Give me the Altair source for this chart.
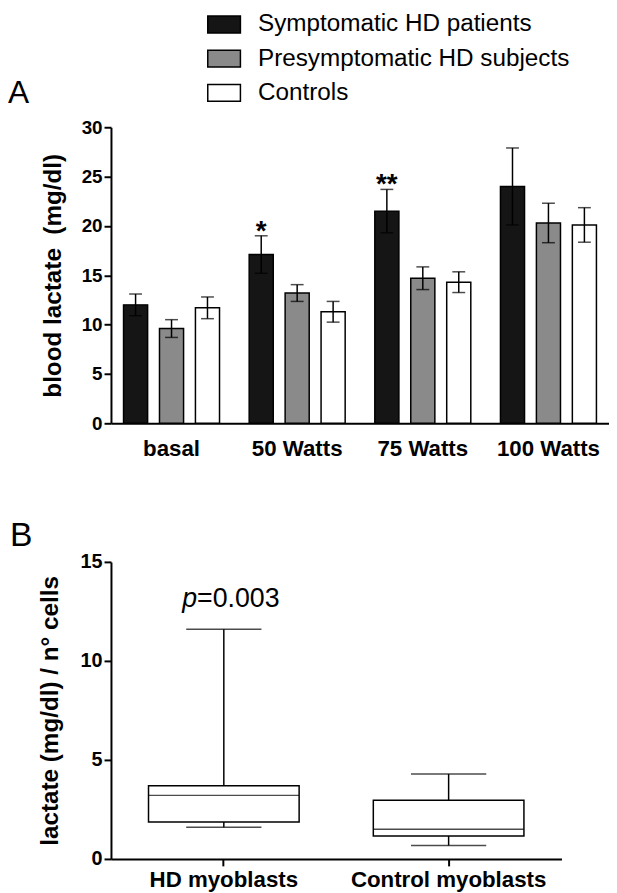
import altair as alt
import pandas as pd

FONT = "Liberation Sans"

# ---------------- Panel A data ----------------
GROUPS = ["basal", "50 Watts", "75 Watts", "100 Watts"]
SERIES = ["Symptomatic HD patients", "Presymptomatic HD subjects", "Controls"]
SYMPTOMATIC = [12.0, 17.1, 21.5, 24.0]
SYMPTOMATIC_ERR = [1.1, 1.9, 2.2, 3.9]
PRESYMPTOMATIC = [9.6, 13.2, 14.7, 20.3]
PRESYMPTOMATIC_ERR = [0.9, 0.85, 1.15, 2.0]
CONTROLS = [11.7, 11.3, 14.3, 20.1]
CONTROLS_ERR = [1.1, 1.05, 1.05, 1.75]
STARS = ["", "*", "**", ""]
COLORS = ["#151515", "#8a8a8a", "#ffffff"]
Y_TICKS_A = [0, 5, 10, 15, 20, 25, 30]

rows = []
for s, means, errs in zip(SERIES, [SYMPTOMATIC, PRESYMPTOMATIC, CONTROLS],
                          [SYMPTOMATIC_ERR, PRESYMPTOMATIC_ERR, CONTROLS_ERR]):
    for i, (g, m, e) in enumerate(zip(GROUPS, means, errs)):
        rows.append(dict(group=g, series=s, mean=m, lo=m - e, hi=m + e,
                         star=STARS[i] if s == SERIES[0] else ""))
dfa = pd.DataFrame(rows)

# ---------------- Panel B data ----------------
CATS = ["HD myoblasts", "Control myoblasts"]
MINS = [1.6, 0.68]
Q1 = [1.86, 1.16]
MEDIANS = [3.21, 1.5]
Q3 = [3.69, 2.96]
MAXS = [11.6, 4.29]
Y_TICKS_B = [0, 5, 10, 15]
dfb = pd.DataFrame(dict(cat=CATS, mn=MINS, q1=Q1, med=MEDIANS, q3=Q3, mx=MAXS))

# ---------------- Panel A ----------------
xa = alt.X("group:N", sort=GROUPS,
           scale=alt.Scale(paddingInner=0.236, paddingOuter=0.1),
           axis=alt.Axis(title=None, labelAngle=0, ticks=False, tickSize=0,
                         labelFontSize=22.5, labelFontWeight="bold", labelPadding=15,
                         domainWidth=2, labelFont=FONT, labelLimit=300))
xoa = alt.XOffset("series:N", sort=SERIES,
                  scale=alt.Scale(domain=SERIES, paddingInner=0.33, paddingOuter=0))
ya_scale = alt.Scale(domain=[0, 30], nice=False)
ya_axis = alt.Axis(values=Y_TICKS_A, title="blood lactate\u00a0 (mg/dl)",
                   titleFontSize=24.5, titleFontWeight="bold", titleFont=FONT,
                   titlePadding=16, labelFontSize=19, labelFontWeight="bold",
                   labelFont=FONT, labelPadding=2, tickSize=7, tickWidth=2,
                   domainWidth=2, grid=False)


def ya(field):
    return alt.Y(field, scale=ya_scale, axis=ya_axis)


bars = alt.Chart(dfa).mark_bar(stroke="black", strokeWidth=1.5).encode(
    x=xa, xOffset=xoa, y=ya("mean:Q"),
    fill=alt.Fill("series:N", sort=SERIES,
                  scale=alt.Scale(domain=SERIES, range=COLORS),
                  legend=alt.Legend(title=None, orient="none", legendX=102, legendY=-116,
                                    symbolType="M-1.94,-1H1.94V1H-1.94Z", symbolSize=289,
                                    symbolStrokeColor="black", symbolStrokeWidth=1.5,
                                    labelFontSize=24.5, labelFont=FONT, labelColor="black",
                                    labelOffset=22, rowPadding=9.5, padding=0,
                                    labelLimit=500)),
)
err = alt.Chart(dfa).mark_rule(color="black", strokeWidth=1.5).encode(
    x=xa, xOffset=xoa, y=ya("lo:Q"), y2="hi:Q")
cap_hi = alt.Chart(dfa).mark_tick(color="black", thickness=1.5, size=13).encode(
    x=xa, xOffset=xoa, y=ya("hi:Q"))
cap_lo = alt.Chart(dfa).mark_tick(color="black", thickness=1.5, size=13).encode(
    x=xa, xOffset=xoa, y=ya("lo:Q"))
stars = alt.Chart(dfa).transform_filter("datum.star != ''").mark_text(
    fontSize=28, fontWeight="bold", font=FONT, baseline="alphabetic", dy=4, color="black"
).encode(x=xa, xOffset=xoa, y=ya("hi:Q"), text="star:N")
label_a = alt.Chart(alt.Data(values=[{"t": "A"}])).mark_text(
    text="A", fontSize=32, font=FONT, align="left", baseline="alphabetic", color="black"
).encode(x=alt.value(-104), y=alt.value(-24))

panel_a = alt.layer(bars, err, cap_hi, cap_lo, stars, label_a).properties(width=503, height=299)

# ---------------- Panel B ----------------
xb = alt.X("cat:N", sort=CATS,
           scale=alt.Scale(paddingInner=0.33, paddingOuter=0.167),
           axis=alt.Axis(title=None, labelAngle=0, tickSize=7, tickWidth=2,
                         labelFontSize=22.5, labelFontWeight="bold", labelPadding=3,
                         domainWidth=2, labelFont=FONT, labelLimit=300))
yb_scale = alt.Scale(domain=[0, 15], nice=False)
yb_axis = alt.Axis(values=Y_TICKS_B, title="lactate (mg/dl) / n° cells",
                   titleFontSize=24.5, titleFontWeight="bold", titleFont=FONT,
                   titlePadding=18, labelFontSize=20, labelFontWeight="bold",
                   labelFont=FONT, labelPadding=2, tickSize=7, tickWidth=2,
                   domainWidth=2, grid=False)


def yb(field):
    return alt.Y(field, scale=yb_scale, axis=yb_axis)


box = alt.Chart(dfb).mark_bar(fill="white", stroke="black", strokeWidth=1.5).encode(
    x=xb, y=yb("q1:Q"), y2="q3:Q")
med = alt.Chart(dfb).mark_tick(color="black", thickness=1.5, size=152).encode(
    x=xb, y=yb("med:Q"))
wh_hi = alt.Chart(dfb).mark_rule(color="black", strokeWidth=1.5).encode(
    x=xb, y=yb("q3:Q"), y2="mx:Q")
wh_lo = alt.Chart(dfb).mark_rule(color="black", strokeWidth=1.5).encode(
    x=xb, y=yb("mn:Q"), y2="q1:Q")
cap_mx = alt.Chart(dfb).mark_tick(color="black", thickness=1.5, size=76).encode(
    x=xb, y=yb("mx:Q"))
cap_mn = alt.Chart(dfb).mark_tick(color="black", thickness=1.5, size=76).encode(
    x=xb, y=yb("mn:Q"))
hd = alt.Chart(dfb).transform_filter(alt.datum.cat == CATS[0])
p_it = hd.mark_text(text="p", fontSize=27, font=FONT, fontStyle="italic", align="right",
                    baseline="bottom", dx=-27, dy=-16, color="black").encode(
    x=xb, y=yb("mx:Q"))
p_val = hd.mark_text(text="=0.003", fontSize=27, font=FONT, align="left",
                     baseline="bottom", dx=-27, dy=-16, color="black").encode(
    x=xb, y=yb("mx:Q"))
label_b = alt.Chart(alt.Data(values=[{"t": "B"}])).mark_text(
    text="B", fontSize=34, font=FONT, align="left", baseline="alphabetic", color="black"
).encode(x=alt.value(-102), y=alt.value(-16))

panel_b = alt.layer(box, wh_hi, wh_lo, med, cap_mx, cap_mn, p_it, p_val, label_b).properties(
    width=455, height=300)

chart = alt.vconcat(panel_a, panel_b, spacing=59).properties(padding=0).configure_view(
    stroke=None
).configure_axis(
    domainColor="black", tickColor="black", labelColor="black", titleColor="black"
)

chart.save("out.html", embed_options={"renderer": "svg", "actions": False})
